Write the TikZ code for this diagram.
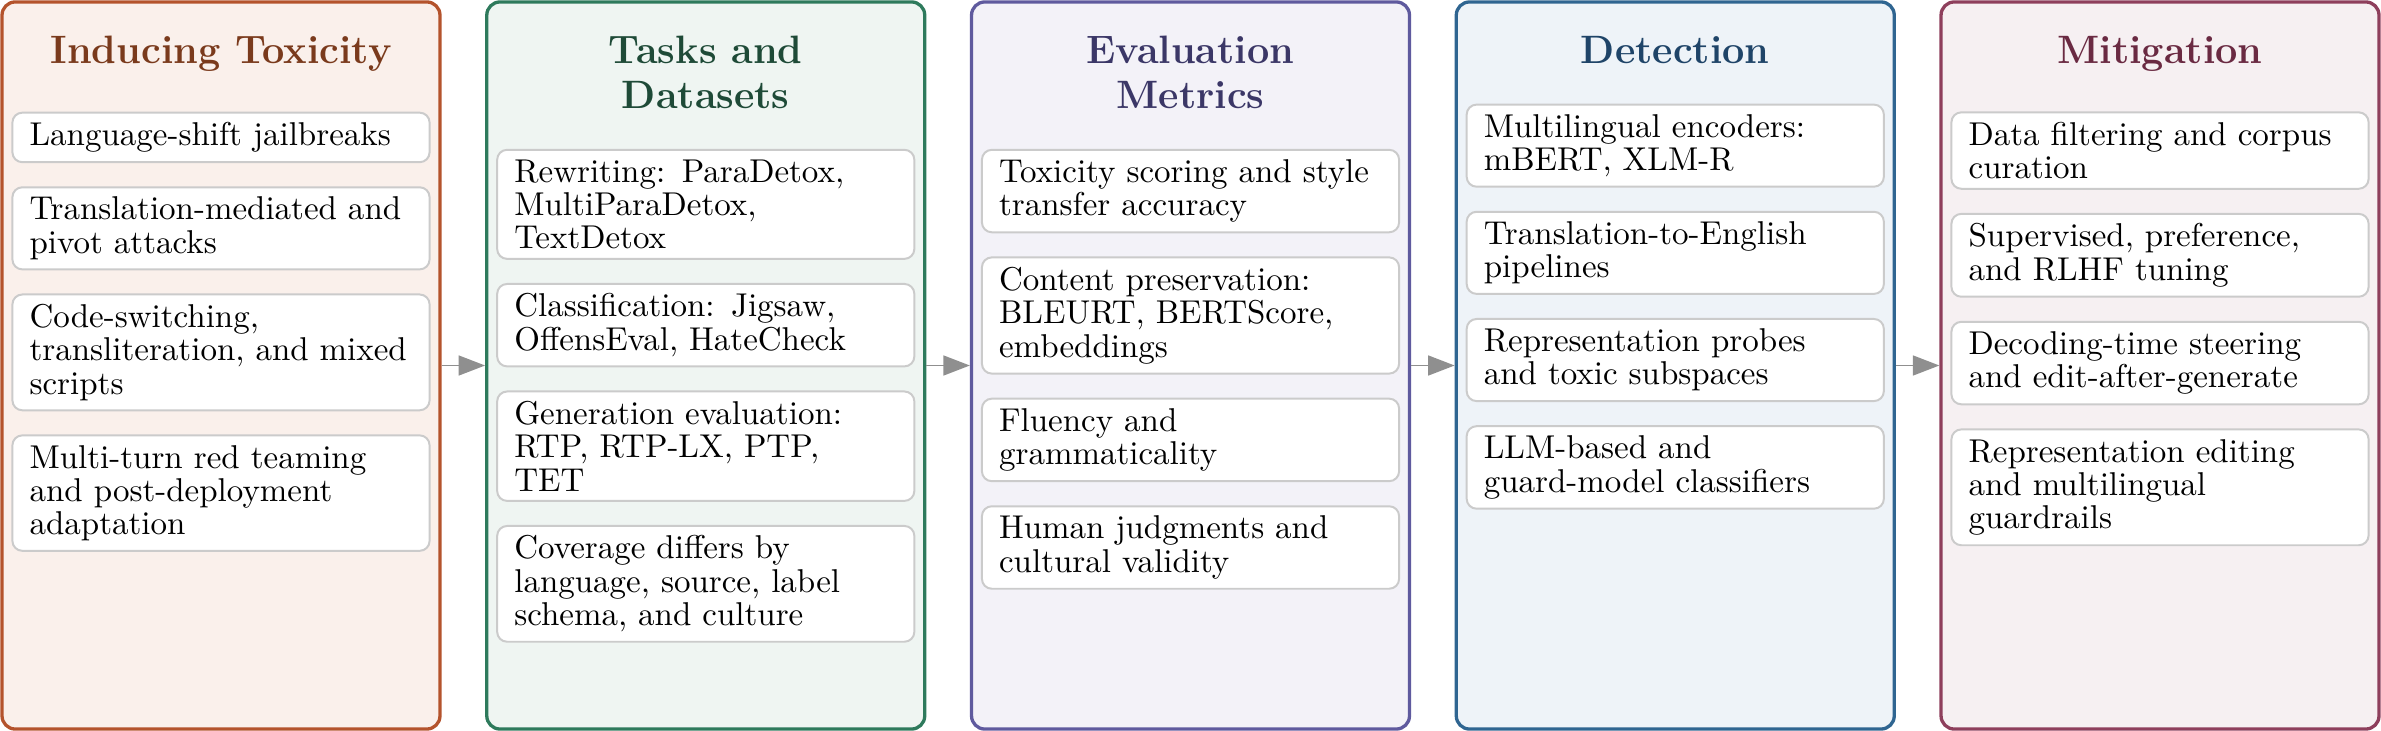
\documentclass[tikz,border=0pt]{standalone}
\usetikzlibrary{positioning,arrows.meta}
\definecolor{c1b}{HTML}{B4532C}\definecolor{c1f}{HTML}{FAF0EB}\definecolor{c1t}{HTML}{7A3A1C}
\definecolor{c2b}{HTML}{2E7A5C}\definecolor{c2f}{HTML}{EFF5F2}\definecolor{c2t}{HTML}{1E4A37}
\definecolor{c3b}{HTML}{5F5A9E}\definecolor{c3f}{HTML}{F3F2F8}\definecolor{c3t}{HTML}{3B3767}
\definecolor{c4b}{HTML}{2F6591}\definecolor{c4f}{HTML}{EEF3F8}\definecolor{c4t}{HTML}{1F4468}
\definecolor{c5b}{HTML}{8E3F5C}\definecolor{c5f}{HTML}{F6F0F2}\definecolor{c5t}{HTML}{6A2A42}
\definecolor{itemb}{HTML}{CBCBCB}
\definecolor{arrowc}{HTML}{8F8F8F}
\tikzset{
  colbox/.style={draw, line width=1pt, rounded corners=4pt, inner sep=0pt,
    minimum width=132.7pt, minimum height=220.3pt},
  coltitle/.style={anchor=north, inner sep=0pt, align=center,
    font=\fontsize{12}{13.6}\selectfont\bfseries},
  itembox/.style={draw=itemb, fill=white, line width=0.6pt, rounded corners=3pt,
    text width=116pt, inner xsep=5.2pt, inner ysep=2.95pt, align=left,
    font=\fontsize{10}{10.1}\selectfont},
  flow/.style={draw=arrowc, line width=0.6pt, -{Triangle[length=8pt,width=6pt]}, fill=arrowc}
}
\begin{document}
\begin{tikzpicture}[x=0.303pt, y=-0.303pt]
\useasboundingbox (0,0) rectangle (2381,731);
% columns
\node[colbox, draw=c1b, fill=c1f] (col1) at (221,365.5) {};
\node[colbox, draw=c2b, fill=c2f] (col2) at (705.75,365.5) {};
\node[colbox, draw=c3b, fill=c3f] (col3) at (1190.5,365.5) {};
\node[colbox, draw=c4b, fill=c4f] (col4) at (1675.25,365.5) {};
\node[colbox, draw=c5b, fill=c5f] (col5) at (2160,365.5) {};
% titles
\node[coltitle, text=c1t] (t1) at ([yshift=-10.6pt]col1.north) {Inducing Toxicity};
\node[coltitle, text=c2t] (t2) at ([yshift=-10.6pt]col2.north) {Tasks and\\Datasets};
\node[coltitle, text=c3t] (t3) at ([yshift=-10.6pt]col3.north) {Evaluation\\Metrics};
\node[coltitle, text=c4t] (t4) at ([yshift=-10.6pt]col4.north) {Detection};
\node[coltitle, text=c5t] (t5) at ([yshift=-10.6pt]col5.north) {Mitigation};
% column 1
\node[itembox, below=12pt of t1] (a1) {Language-shift jailbreaks};
\node[itembox, below=7pt of a1] (a2) {Translation-mediated and\\pivot attacks};
\node[itembox, below=7pt of a2] (a3) {Code-switching,\\transliteration, and mixed\\scripts};
\node[itembox, below=7pt of a3] (a4) {Multi-turn red teaming\\and post-deployment\\adaptation};
% column 2
\node[itembox, below=12pt of t2] (b1) {Rewriting: ParaDetox,\\MultiParaDetox,\\TextDetox};
\node[itembox, below=7pt of b1] (b2) {Classification: Jigsaw,\\OffensEval, HateCheck};
\node[itembox, below=7pt of b2] (b3) {Generation evaluation:\\RTP, RTP-LX, PTP,\\TET};
\node[itembox, below=7pt of b3] (b4) {Coverage differs by\\language, source, label\\schema, and culture};
% column 3
\node[itembox, below=12pt of t3] (c1) {Toxicity scoring and style\\transfer accuracy};
\node[itembox, below=7pt of c1] (c2) {Content preservation:\\BLEURT, BERTScore,\\embeddings};
\node[itembox, below=7pt of c2] (c3) {Fluency and\\grammaticality};
\node[itembox, below=7pt of c3] (c4) {Human judgments and\\cultural validity};
% column 4
\node[itembox, below=12pt of t4] (d1) {Multilingual encoders:\\mBERT, XLM-R};
\node[itembox, below=7pt of d1] (d2) {Translation-to-English\\pipelines};
\node[itembox, below=7pt of d2] (d3) {Representation probes\\and toxic subspaces};
\node[itembox, below=7pt of d3] (d4) {LLM-based and\\guard-model classifiers};
% column 5
\node[itembox, below=12pt of t5] (e1) {Data filtering and corpus\\curation};
\node[itembox, below=7pt of e1] (e2) {Supervised, preference,\\and RLHF tuning};
\node[itembox, below=7pt of e2] (e3) {Decoding-time steering\\and edit-after-generate};
\node[itembox, below=7pt of e3] (e4) {Representation editing\\and multilingual\\guardrails};
% arrows
\draw[flow] (col1.east) -- (col2.west);
\draw[flow] (col2.east) -- (col3.west);
\draw[flow] (col3.east) -- (col4.west);
\draw[flow] (col4.east) -- (col5.west);
\end{tikzpicture}
\end{document}
